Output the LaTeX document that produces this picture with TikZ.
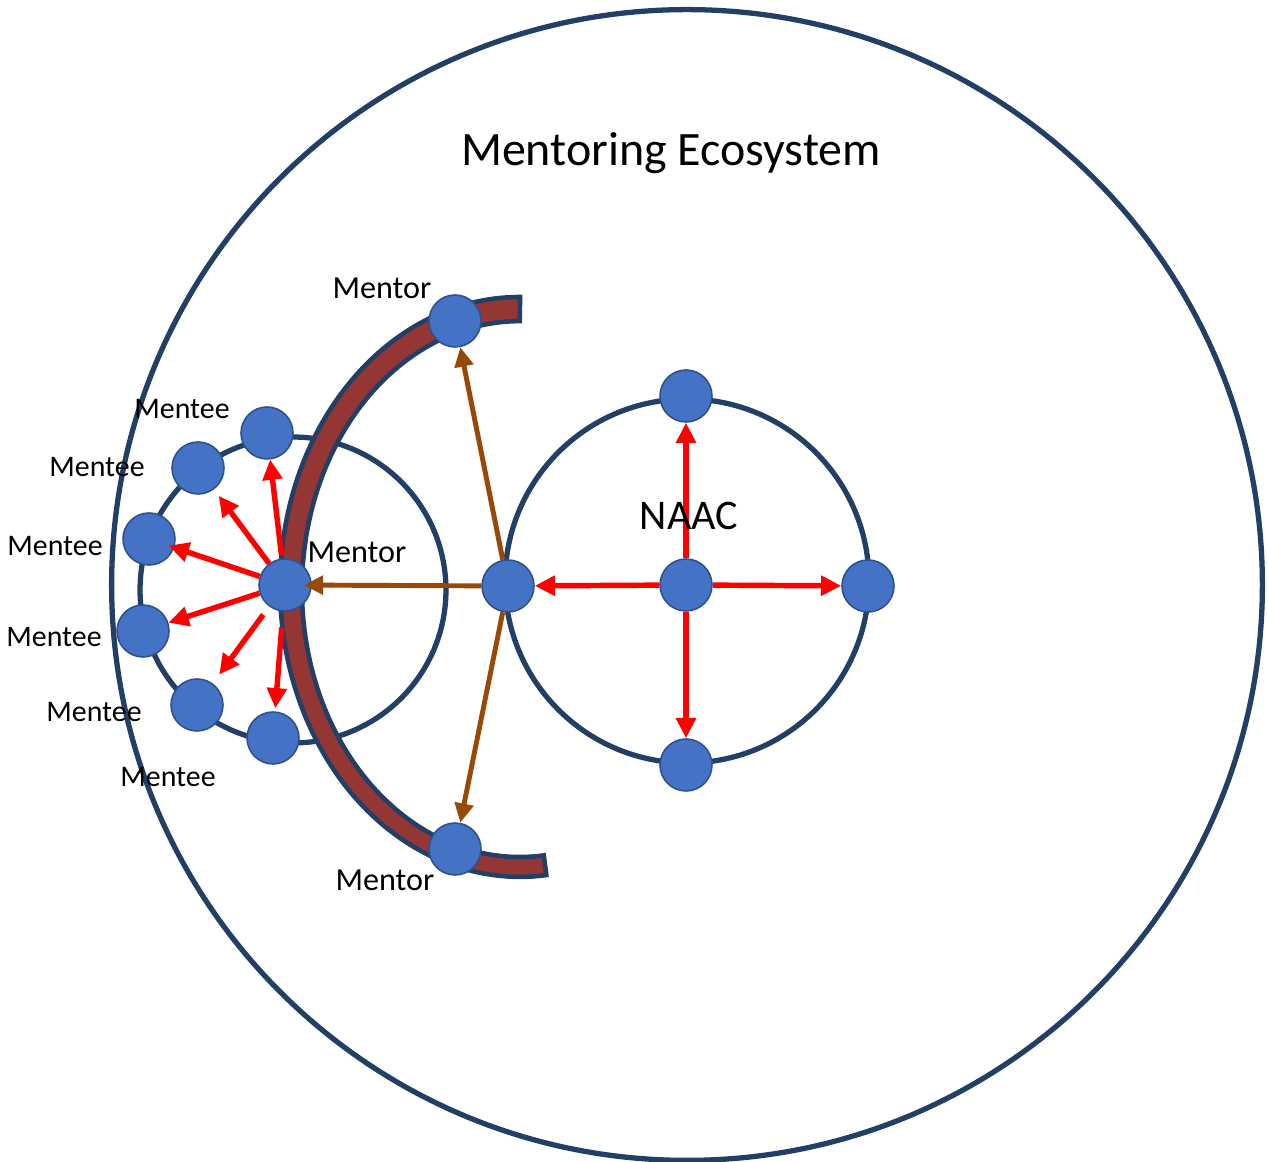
\documentclass[tikz,border=0pt]{standalone}
\usepackage{fontspec}
\setmainfont{Carlito}
\usetikzlibrary{arrows.meta}
\definecolor{navy}{HTML}{223F66}
\definecolor{nodeblue}{HTML}{4472C4}
\definecolor{nodeedge}{HTML}{2F528F}
\definecolor{bandred}{HTML}{943634}
\definecolor{arrowbrown}{HTML}{984807}
\definecolor{arrowred}{HTML}{FF0000}
\begin{document}
\begin{tikzpicture}[x=0.02cm,y=0.02cm,
  dot/.style={circle,fill=nodeblue,draw=nodeedge,line width=0.9pt,minimum size=1.04cm,inner sep=0pt},
  ring/.style={draw=navy,line width=3pt},
  bandstyle/.style={draw=navy,fill=bandred,line width=2.6pt,line join=miter},
  redarrow/.style={draw=arrowred,line width=3.1pt,-{Triangle[length=11.5pt,width=11pt]}},
  brownarrow/.style={draw=arrowbrown,line width=2.8pt,-{Triangle[length=11pt,width=10.5pt]}},
  menteelbl/.style={inner sep=0pt,font=\fontsize{17}{19}\selectfont},
  mentorlbl/.style={inner sep=0pt,font=\fontsize{18.3}{20}\selectfont},
  biglbl/.style={inner sep=0pt,font=\fontsize{24}{28}\selectfont},
  titlelbl/.style={inner sep=0pt,font=\fontsize{27.3}{32}\selectfont}]
\useasboundingbox (0,0) rectangle (1268,1162);
% circles
\draw[ring,line width=3pt] (687,577) circle[radius=11.51cm];
\draw[ring] (293,572) circle[radius=3.06cm];
\draw[ring] (687,581) circle[radius=3.64cm];
% band
\draw[bandstyle] (520,865) arc[start angle=90,end angle=276.3,x radius=4.80cm,y radius=5.80cm]
  -- (543.8,306.6) arc[start angle=276.3,end angle=90,x radius=4.36cm,y radius=5.36cm] -- cycle;
% nodes
\node[dot] (mt) at (455,841) {};
\node[dot] (mb) at (455,313) {};
\node[dot] (mc) at (285,577) {};
\node[dot] (hub) at (508,576) {};
\node[dot] (nc) at (686,577) {};
\node[dot] (ntop) at (686,766) {};
\node[dot] (nright) at (868,576) {};
\node[dot] (nbot) at (686,397) {};
\node[dot] (me1) at (267,729) {};
\node[dot] (me2) at (198,694) {};
\node[dot] (me3) at (149,623) {};
\node[dot] (me4) at (143,531) {};
\node[dot] (me5) at (197,457) {};
\node[dot] (me6) at (273,424) {};
% brown arrows
\draw[brownarrow] (hub) -- (mt);
\draw[brownarrow] (hub) -- (mb);
\draw[brownarrow,shorten >=-4.5pt] (hub) -- (mc);
% red arrows NAAC
\draw[redarrow] (nc) -- (hub);
\draw[redarrow] (nc) -- (ntop);
\draw[redarrow] (nc) -- (nright);
\draw[redarrow] (nc) -- (nbot);
% red arrows mentees
\draw[redarrow,shorten <=1.7pt] (mc) -- (me1);
\draw[redarrow,shorten >=4.5pt] (mc) -- (me2);
\draw[redarrow,shorten >=-3.4pt] (mc) -- (me3);
\draw[redarrow] (mc) -- (me4);
\draw[redarrow,shorten <=5.7pt,shorten >=6.2pt] (mc) -- (me5);
\draw[redarrow,shorten <=9pt,shorten >=1.7pt] (mc) -- (me6);
% labels
\node[titlelbl] (title) at (671,1009) {Mentoring Ecosystem};
\node[biglbl] (naac) at (689,646) {NAAC};
\node[mentorlbl] (lmt) at (382,874) {Mentor};
\node[mentorlbl] (lmc) at (357,610) {Mentor};
\node[mentorlbl] (lmb) at (385,282) {Mentor};
\node[menteelbl] (l1) at (182,753) {Mentee};
\node[menteelbl] (l2) at (97,695) {Mentee};
\node[menteelbl] (l3) at (55,616) {Mentee};
\node[menteelbl] (l4) at (54,525) {Mentee};
\node[menteelbl] (l5) at (94,450) {Mentee};
\node[menteelbl] (l6) at (168,385) {Mentee};
\end{tikzpicture}
\end{document}
